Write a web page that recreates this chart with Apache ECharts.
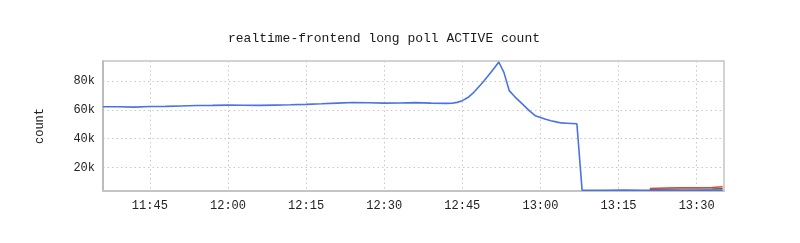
<!DOCTYPE html>
<html>
<head>
<meta charset="utf-8">
<script src="https://cdn.jsdelivr.net/npm/echarts@6/dist/echarts.min.js"></script>
<style>
html,body{margin:0;padding:0;background:#fff;}
#c{width:800px;height:243px;}
</style>
</head>
<body>
<div id="c"></div>
<script>
// ---- data ----
const titleText = "realtime-frontend long poll ACTIVE count";
const yName = "count";
const yTickValues = [20000, 40000, 60000, 80000];
const xTickLabels = ["11:45", "12:00", "12:15", "12:30", "12:45", "13:00", "13:15", "13:30"];

const activeTimes = ["11:36","11:39","11:42","11:45","11:48","11:51","11:54","11:57","12:00","12:03","12:06","12:09","12:12","12:15","12:18","12:21","12:24","12:27","12:30","12:33","12:36","12:39","12:42","12:43","12:44","12:45","12:46","12:47","12:48","12:49","12:50","12:51","12:52","12:53","12:54","12:55","12:56","12:57","12:58","12:59","13:00","13:01","13:02","13:03","13:04","13:05","13:06","13:07","13:08","13:12","13:16","13:20","13:24","13:28","13:32","13:35"];
const activeValues = [62200,62300,62000,62400,62500,62800,63100,63200,63400,63300,63200,63400,63600,63900,64300,64800,65200,65000,64800,64900,65100,64800,64600,64700,65300,66500,68500,71500,75500,79500,84000,88500,93400,86000,73500,69500,66000,62500,59000,56000,54800,53500,52500,51700,51000,50800,50600,50400,4200,4150,4200,4150,4200,4150,4200,4200];

const redTimes = ["13:21","13:24","13:27","13:30","13:33","13:35"];
const redValues = [5400,5700,5800,5900,6000,6500];
const greenTimes = ["13:21","13:24","13:27","13:30","13:33","13:35"];
const greenValues = [4800,4900,5000,5000,5100,5200];

// ---- helpers ----
function toMin(s){ const p = s.split(":"); return (+p[0])*60 + (+p[1]); }
function fmt(m){ const h = Math.floor(m/60), mm = Math.round(m - h*60); return h + ":" + (mm<10?"0":"") + mm; }
function pairs(ts, vs){ return ts.map((t,i)=>[toMin(t), vs[i]]); }

const xTicks = xTickLabels.map(toMin);
const mono = "Liberation Mono";

const chart = echarts.init(document.getElementById('c'), null, {renderer:'canvas'});
chart.setOption({
  animation: false,
  backgroundColor: '#ffffff',
  title: {
    text: titleText,
    left: 379, top: 27, textAlign: 'center',
    textStyle: {fontFamily: mono, fontSize: 13, fontWeight: 'normal', color: '#1a1a1a'}
  },
  grid: {
    left: 103, right: 76, top: 61, bottom: 52,
    show: true, borderColor: '#c4c4c4', borderWidth: 1.5, backgroundColor: '#fff'
  },
  xAxis: {
    type: 'value',
    min: toMin("11:36"), max: toMin("13:35") + 0.25,
    axisLine: {show: true, lineStyle: {color: '#c4c4c4', width: 2}},
    axisTick: {show: false, customValues: xTicks},
    axisLabel: {customValues: xTicks, formatter: v => fmt(v), fontFamily: mono, fontSize: 12, color: '#222', margin: 9},
    splitLine: {show: true, lineStyle: {color: '#c8c8c8', type: [1.5, 3], width: 1}}
  },
  yAxis: {
    type: 'value',
    min: 3600, max: 94100,
    name: yName, nameLocation: 'middle', nameGap: 57,
    nameTextStyle: {fontFamily: mono, fontSize: 12, color: '#222'},
    axisLine: {show: true, lineStyle: {color: '#b4b4b4', width: 1.5}},
    axisTick: {show: false, customValues: yTickValues},
    axisLabel: {customValues: yTickValues, formatter: v => (v/1000) + 'k', fontFamily: mono, fontSize: 12, color: '#222', margin: 8},
    splitLine: {show: true, lineStyle: {color: '#c8c8c8', type: [1.5, 3], width: 1}}
  },
  series: [
    {type: 'line', data: pairs(greenTimes, greenValues), showSymbol: false, lineStyle: {color: '#4a6a30', width: 1.2}, itemStyle:{color:'#4a6a30'}},
    {type: 'line', data: pairs(redTimes, redValues), showSymbol: false, lineStyle: {color: '#e2452b', width: 1.5}, itemStyle:{color:'#e2452b'}},
    {type: 'line', data: pairs(activeTimes, activeValues), showSymbol: false, lineStyle: {color: '#4a72e6', width: 1.6}, itemStyle:{color:'#4a72e6'}}
  ]
});
</script>
</body>
</html>
